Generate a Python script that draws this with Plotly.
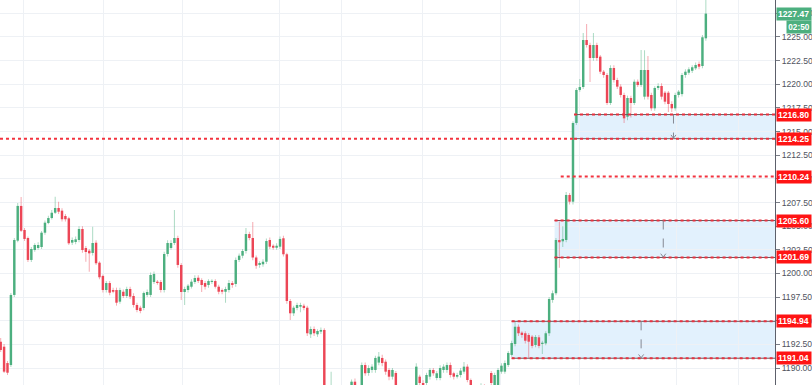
import numpy as np
import plotly.graph_objects as go

# ---------------- data ----------------
opens = [1192.79,1192.26,1190.53,1190.32,1197.73,1203.47,1207.14,1204.60,1203.75,1201.43,
         1202.48,1202.69,1202.80,1204.31,1205.33,1205.86,1206.42,1206.92,1206.64,1206.08,
         1205.83,1203.26,1203.33,1203.54,1204.70,1202.69,1202.41,1202.17,1203.25,1201.14,
         1199.74,1198.25,1198.99,1198.25,1198.25,1197.02,1198.07,1197.62,1198.36,1197.62,
         1196.67,1196.38,1196.35,1197.73,1197.73,1199.10,1199.13,1199.10,1198.25,1202.06,
         1202.69,1203.22,1203.75,1200.90,1198.04,1198.25,1198.60,1199.10,1199.55,1199.31,
         1198.99,1198.78,1199.10,1199.20,1198.60,1198.25,1198.07,1198.25,1198.99,1198.89,
         1201.43,1201.88,1202.38,1204.17,1203.75,1201.69,1200.90,1200.97,1201.24,1203.54,
         1202.93,1202.72,1202.83,1203.72,1202.03,1197.09,1195.79,1196.35,1196.49,1196.59,
         1196.38,1193.57,1194.13,1193.57,1193.85,1194.03,1186.50,1186.20,1186.80,1187.20,
         1186.90,1187.50,1187.80,1187.90,1188.56,1187.80,1187.70,1190.32,1189.48,1189.80,
         1189.80,1190.58,1191.07,1190.67,1189.80,1189.09,1189.48,1187.30,1186.80,1187.10,
         1186.70,1187.40,1187.70,1189.09,1188.42,1188.42,1189.09,1189.80,1188.95,1188.95,
         1189.80,1189.80,1190.32,1189.45,1189.09,1189.27,1189.62,1190.15,1188.74,1187.60,
         1187.30,1187.70,1188.00,1187.80,1189.48,1188.00,1187.90,1189.62,1189.62,1190.32,
         1191.39,1192.54,1194.37,1193.74,1193.68,1193.50,1193.32,1192.44,1193.25,1192.54,
         1192.61,1193.68,1197.20,1197.91,1203.54,1203.40,1203.54,1208.30,1207.59,1215.91,
         1219.40,1219.71,1224.68,1224.15,1222.78,1224.15,1222.92,1221.33,1220.98,1218.02,
         1221.72,1220.45,1219.75,1218.87,1216.57,1218.55,1218.02,1220.27,1219.92,1218.69,
         1221.51,1218.87,1217.46,1219.61,1219.82,1219.11,1219.11,1217.92,1217.46,1218.87,
         1218.96,1220.98,1221.22,1221.43,1221.69,1222.15,1221.93,1224.86]
highs = [1193.18,1192.55,1190.75,1197.94,1203.75,1207.45,1208.09,1204.80,1203.90,1202.80,
         1203.20,1203.30,1204.50,1205.60,1206.10,1206.70,1208.12,1207.59,1206.90,1206.30,
         1206.00,1203.80,1203.90,1205.00,1205.00,1202.90,1202.60,1204.95,1203.50,1201.30,
         1199.90,1199.20,1199.20,1198.50,1198.50,1198.50,1198.30,1198.60,1198.60,1197.90,
         1196.90,1196.60,1198.10,1198.30,1200.10,1200.20,1199.30,1199.30,1202.30,1203.50,
         1203.50,1206.71,1204.00,1201.10,1198.60,1198.90,1199.40,1199.80,1199.80,1199.50,
         1199.20,1199.40,1199.40,1199.40,1198.80,1198.40,1198.60,1199.30,1199.20,1201.70,
         1202.10,1202.60,1204.81,1204.40,1205.44,1201.90,1201.30,1201.50,1203.70,1203.80,
         1203.10,1203.20,1203.90,1204.00,1202.20,1197.30,1196.60,1196.90,1196.90,1196.80,
         1196.60,1194.40,1194.40,1194.10,1194.30,1194.20,1187.00,1189.62,1187.60,1187.80,
         1187.90,1188.10,1188.20,1188.80,1188.90,1188.10,1190.60,1190.60,1190.30,1190.40,
         1191.30,1191.70,1191.40,1190.90,1190.00,1190.00,1189.70,1187.60,1187.50,1187.40,
         1187.80,1188.00,1190.50,1189.30,1188.70,1189.50,1190.00,1190.00,1189.70,1190.30,
         1190.40,1190.60,1190.60,1189.60,1189.50,1190.00,1190.64,1190.40,1188.90,1187.90,
         1188.00,1188.40,1188.30,1188.20,1189.70,1189.50,1190.00,1190.50,1190.80,1191.80,
         1192.90,1194.87,1194.60,1193.90,1193.90,1193.70,1193.50,1193.50,1193.50,1192.90,
         1193.90,1197.50,1198.20,1203.75,1205.50,1205.00,1208.60,1208.50,1216.10,1219.60,
         1220.56,1225.42,1226.37,1224.40,1225.42,1224.40,1223.10,1221.50,1221.20,1222.00,
         1222.00,1220.70,1220.00,1219.10,1218.80,1218.80,1220.50,1220.50,1223.62,1223.60,
         1223.00,1219.10,1219.80,1220.10,1220.10,1219.30,1219.30,1218.20,1219.10,1219.40,
         1221.20,1221.60,1221.80,1222.00,1222.30,1222.40,1225.20,1229.50]
lows = [1191.70,1189.48,1189.27,1190.11,1197.52,1203.30,1204.38,1203.43,1201.22,1201.20,
        1202.30,1202.50,1202.60,1204.10,1205.20,1205.70,1206.30,1206.30,1205.50,1205.50,
        1203.00,1203.00,1203.10,1203.30,1202.20,1201.24,1200.19,1201.90,1200.90,1199.40,
        1198.00,1198.00,1197.70,1197.90,1196.60,1196.80,1197.40,1197.40,1197.30,1196.40,
        1195.90,1195.80,1196.10,1197.50,1197.50,1198.90,1198.80,1198.00,1198.00,1201.80,
        1202.50,1203.00,1200.60,1197.20,1196.67,1198.00,1198.40,1198.90,1199.00,1198.04,
        1198.30,1198.50,1198.90,1198.40,1197.80,1197.80,1196.90,1198.00,1198.50,1198.60,
        1201.20,1201.60,1202.10,1203.50,1201.40,1200.50,1200.60,1200.70,1201.00,1202.60,
        1202.50,1202.50,1202.60,1201.80,1196.80,1195.08,1195.50,1196.10,1195.90,1196.10,
        1193.40,1193.18,1193.40,1193.30,1193.60,1186.00,1185.50,1185.80,1186.30,1186.50,
        1186.60,1187.20,1187.40,1187.60,1187.50,1187.20,1187.40,1189.20,1189.20,1189.50,
        1189.50,1190.30,1190.20,1189.30,1188.70,1188.80,1186.90,1186.40,1186.50,1186.30,
        1186.50,1187.10,1187.40,1188.10,1187.80,1188.20,1188.80,1189.20,1188.70,1188.70,
        1189.50,1189.50,1189.00,1188.80,1188.90,1189.00,1189.40,1188.50,1187.20,1187.00,
        1187.00,1187.40,1187.50,1187.40,1188.10,1187.70,1187.60,1189.40,1189.40,1190.10,
        1191.20,1192.30,1193.40,1193.20,1192.60,1191.10,1192.10,1192.20,1192.10,1191.50,
        1192.40,1193.40,1196.90,1197.70,1200.60,1202.80,1203.30,1207.30,1207.30,1215.70,
        1219.20,1219.50,1223.90,1220.24,1222.50,1222.50,1221.10,1220.70,1217.80,1217.80,
        1220.20,1219.50,1218.60,1215.91,1216.20,1216.50,1217.80,1219.70,1219.70,1218.40,
        1218.40,1217.20,1217.20,1219.40,1218.40,1217.90,1217.07,1217.07,1217.20,1218.60,
        1218.70,1220.70,1221.00,1221.20,1221.50,1221.60,1221.70,1224.60]
closes = [1191.91,1189.62,1189.51,1197.73,1203.54,1207.14,1204.52,1203.65,1201.43,1202.59,
          1203.01,1203.01,1204.31,1205.37,1205.86,1206.42,1206.92,1206.53,1205.73,1205.73,
          1203.19,1203.54,1203.61,1204.70,1202.48,1202.27,1202.13,1203.22,1201.08,1199.60,
          1198.25,1198.99,1197.97,1198.07,1196.91,1198.25,1197.62,1198.36,1197.55,1196.67,
          1196.14,1196.03,1197.94,1198.04,1199.84,1199.95,1198.99,1198.25,1202.06,1203.22,
          1203.22,1203.75,1200.90,1198.04,1198.36,1198.71,1199.13,1199.52,1199.20,1198.78,
          1198.60,1199.20,1199.20,1198.60,1198.07,1198.07,1198.36,1198.99,1198.78,1201.43,
          1201.88,1202.38,1204.17,1203.75,1201.69,1200.82,1201.11,1201.24,1203.43,1202.83,
          1202.72,1202.93,1203.65,1202.03,1197.09,1195.79,1196.38,1196.67,1196.67,1196.35,
          1193.68,1194.13,1193.68,1193.92,1194.03,1186.50,1186.00,1186.80,1187.20,1186.90,
          1187.50,1187.80,1187.90,1188.56,1187.80,1187.60,1190.32,1189.45,1190.01,1190.15,
          1191.07,1191.21,1190.53,1189.62,1189.09,1189.80,1187.30,1186.80,1187.10,1186.70,
          1187.40,1187.60,1190.15,1188.42,1188.20,1189.27,1189.80,1189.45,1189.45,1190.01,
          1190.15,1190.32,1189.27,1189.09,1189.27,1189.73,1190.15,1188.74,1187.60,1187.30,
          1187.70,1188.00,1187.80,1188.00,1188.42,1189.27,1189.80,1190.25,1190.53,1191.60,
          1192.65,1194.37,1193.68,1193.50,1192.89,1192.79,1192.34,1193.29,1192.34,1192.68,
          1193.68,1197.30,1197.91,1203.54,1203.30,1203.65,1208.30,1207.59,1215.91,1219.40,
          1219.71,1224.68,1224.15,1222.78,1224.15,1222.78,1221.33,1220.98,1218.02,1221.72,
          1220.45,1219.75,1218.87,1216.40,1218.55,1218.02,1220.27,1219.92,1221.51,1221.51,
          1218.69,1217.46,1219.61,1219.82,1218.69,1218.16,1217.92,1217.46,1218.87,1219.22,
          1220.98,1221.33,1221.58,1221.80,1222.04,1221.86,1224.97,1227.47]

level_values = [1216.80, 1214.25, 1210.24, 1205.60, 1201.69, 1194.94, 1191.04]
zones = [(1214.25, 1216.80), (1201.69, 1205.60), (1191.04, 1194.94)]
last_price = 1227.47
countdown = "02:50"
y_ticks = [1190.0 + 2.5 * k for k in range(16)]

# ---------------- layout / style constants ----------------
W, H = 812, 385
X_RANGE = [-0.2, 227.3]
Y_RANGE = [1188.21, 1228.91]
GRID_X = [6.84, 30.3, 53.5, 81.7, 99.9, 123.7, 146.6, 169.8, 198.3, 216.5]
ZONE_START = [168.3, 162.6, 150.0]
MEASURE_X = [197.5, 194.5, 188.0]
RAY_1214_END = 168.3
RAY_1210_START = 164.4

UP, DN = "#4caf7f", "#ec4656"
UPW, DNW = "rgba(76,175,127,0.45)", "rgba(236,70,86,0.45)"
GRID = "#eef1f5"
LABEL_RED = "#ff1414"
LABEL_GREEN = "#4caf7f"
FONT = "Liberation Sans"
FS = 8.6

o = np.array(opens); h = np.array(highs); l = np.array(lows); c = np.array(closes)
xs = np.arange(len(o))
up = c >= o
body_base = np.minimum(o, c)
body_h = np.maximum(np.abs(c - o), 0.12)

fig = go.Figure()

# zones (under candles)
for (lo, hi), x0 in zip(zones, ZONE_START):
    fig.add_shape(type="rect", xref="x", yref="y", x0=x0, x1=X_RANGE[1], y0=lo, y1=hi,
                  fillcolor="rgba(33,150,243,0.13)", line_width=0, layer="below")

fig.add_trace(go.Bar(x=xs, base=l, y=h - l, width=0.3,
                     marker=dict(color=np.where(up, UPW, DNW), line_width=0),
                     hoverinfo="skip", showlegend=False))
fig.add_trace(go.Bar(x=xs, base=body_base, y=body_h, width=0.72,
                     marker=dict(color=np.where(up, UP, DN), line_width=0),
                     hoverinfo="skip", showlegend=False))

# zone edges: solid dark line + red dotted ray
for (lo, hi), x0 in zip(zones, ZONE_START):
    for v in (lo, hi):
        fig.add_shape(type="line", xref="x", yref="y", x0=x0, x1=X_RANGE[1], y0=v, y1=v,
                      line=dict(color="#6d5a5e", width=1))
        fig.add_shape(type="line", xref="x", yref="y", x0=x0, x1=X_RANGE[1], y0=v, y1=v,
                      line=dict(color="#e8313f", width=2, dash="dot"))

# long ray at 1214.25 and ray at 1210.24
fig.add_shape(type="line", xref="x", yref="y", x0=X_RANGE[0], x1=RAY_1214_END,
              y0=level_values[1], y1=level_values[1],
              line=dict(color="#f2333f", width=2, dash="dot"))
fig.add_shape(type="line", xref="x", yref="y", x0=RAY_1210_START, x1=X_RANGE[1],
              y0=level_values[2], y1=level_values[2],
              line=dict(color="#f2333f", width=2, dash="dot"))

# measure arrows inside zones (dashed stem + chevron head at the bottom)
for (lo, hi), mx in zip(zones, MEASURE_X):
    fig.add_shape(type="line", xref="x", yref="y", x0=mx, x1=mx, y0=hi, y1=lo,
                  line=dict(color="#858893", width=1, dash="dash"))
    fig.add_shape(type="path", xref="x", yref="y",
                  path=f"M {mx - 0.75},{lo + 0.4} L {mx},{lo + 0.05} L {mx + 0.75},{lo + 0.4}",
                  line=dict(color="#858893", width=1))

# right side labels
for v in level_values:
    fig.add_annotation(xref="paper", x=1, xanchor="left", xshift=1, yref="y", y=v,
                       text=f"<b>{v:.2f}</b>", showarrow=False, bgcolor=LABEL_RED,
                       font=dict(color="white", size=FS, family=FONT),
                       width=32, height=10, borderpad=1, align="left")
fig.add_annotation(xref="paper", x=1, xanchor="left", xshift=1, yref="y", y=last_price,
                   text=f"<b>{last_price:.2f}</b>", showarrow=False, bgcolor=LABEL_GREEN,
                   font=dict(color="white", size=FS, family=FONT),
                   width=32, height=10, borderpad=1, align="left")
fig.add_annotation(xref="paper", x=1, xanchor="left", xshift=11, yref="y", y=last_price,
                   yshift=-13, text=f"<b>{countdown}</b>", showarrow=False, bgcolor=LABEL_GREEN,
                   font=dict(color="white", size=8.2, family=FONT),
                   width=22, height=10, borderpad=1, align="center")

fig.update_layout(
    width=W, height=H, margin=dict(l=0, r=37, t=0, b=0, autoexpand=False),
    paper_bgcolor="white", plot_bgcolor="white", barmode="overlay",
    showlegend=False, font=dict(family=FONT), hovermode=False,
    xaxis=dict(range=X_RANGE, tickvals=GRID_X, showticklabels=False, showgrid=True,
               gridcolor=GRID, zeroline=False, ticks="", fixedrange=True),
    yaxis=dict(range=Y_RANGE, side="right", tickvals=y_ticks,
               ticktext=[f"{t:.2f}" for t in y_ticks], showgrid=True, gridcolor=GRID,
               zeroline=False, ticks="outside", ticklen=4, tickcolor="#7b7e87",
               showline=True, linecolor="#5d606b", linewidth=1, fixedrange=True,
               tickfont=dict(size=FS, color="#50535e", family=FONT)),
)

fig.write_html("out.html", config={"displayModeBar": False, "staticPlot": True},
               post_script="document.body.style.margin='0px';document.body.style.overflow='hidden';")
